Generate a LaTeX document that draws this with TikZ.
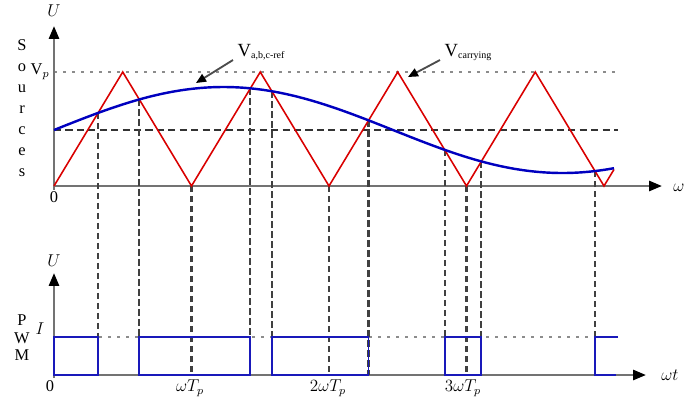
\documentclass[tikz,border=0pt]{standalone}
\usepackage{fontspec}
\setmainfont{Liberation Serif}
\usetikzlibrary{arrows.meta,intersections,positioning}

\begin{document}
\begin{tikzpicture}[x=0.7pt,y=-0.7pt,
    axis/.style={draw=black!55, line width=1.7pt, -{Triangle[black,length=9pt,width=7pt]}},
    levelline/.style={draw=black!45, line width=1.4pt, dash pattern=on 2pt off 4.3pt},
    midline/.style={draw=black!80, line width=1.4pt, dash pattern=on 5pt off 3pt},
    drop/.style={draw=black!75, line width=1.5pt, dash pattern=on 4.5pt off 2.5pt},
    carrier/.style={draw=red!85!black, line width=1.1pt},
    refwave/.style={draw=blue!75!black, line width=1.7pt},
    pwm/.style={draw=blue!70!black!90, line width=1.3pt},
    pointer/.style={draw=black!70, line width=1.3pt, -{Triangle[black,length=7pt,width=6pt]}},
    lbl/.style={font=\fontsize{11.5}{13}\selectfont, inner sep=1pt}]
\useasboundingbox (0,0) rectangle (689,399);

% axes
\coordinate (o1) at (54,186);
\coordinate (o2) at (54,375);
\coordinate (x1) at (662,186);
\coordinate (y1) at (54,26);
\coordinate (x2) at (646,375);
\coordinate (y2) at (54,273);

% reference levels
\draw[levelline] (54,72) -- (620,72);
\draw[midline] (54,130) -- (618,130);
\draw[levelline] (54,337) -- (620,337);

\draw[axis] (o1) -- (x1);
\draw[axis] (o1 |- 0,190) -- (y1);
\draw[axis] (o2) -- (x2);
\draw[axis] (o2 |- 0,378) -- (y2);

% carrier and reference
\path[name path=tri] (54,186) \foreach \k in {0,...,3} { -- ++(68.75,-114) -- ++(68.75,114)} -- ++(10,-16.6);
\path[name path=ref] plot[domain=54:614, samples=90, smooth] (\x,{130-43*sin(0.531*(\x-54))});
\path[name intersections={of=tri and ref, name=c, sort by=tri}];

% dashed projections
\foreach \i in {1,...,8}
    \draw[drop] (c-\i) -- (c-\i |- o2);
\foreach \x in {191.5,329,466.5}
    \draw[drop] (\x,186) -- (\x,375);

\draw[carrier] (54,186) \foreach \k in {0,...,3} { -- ++(68.75,-114) -- ++(68.75,114)} -- ++(10,-16.6);
\draw[refwave] plot[domain=54:614, samples=90, smooth] (\x,{130-43*sin(0.531*(\x-54))});

% pwm pulses
\draw[pwm] (o2) rectangle (c-1 |- 0,337);
\draw[pwm] (c-2 |- o2) rectangle (c-3 |- 0,337);
\draw[pwm] (c-4 |- o2) rectangle (c-5 |- 0,337);
\draw[pwm] (c-6 |- o2) rectangle (c-7 |- 0,337);
\draw[pwm] (618,337) -- (c-8 |- 0,337) -- (c-8 |- o2) -- (616,375);

% labels
\node[lbl] (u1) at (54,11) {$U$};
\node[lbl] (u2) at (54,261) {$U$};
\node[lbl] (w1) at (679,188) {$\omega$};
\node[lbl] (w2) at (670,375) {$\omega t$};
\node[lbl] (z1) at (54,197) {0};
\node[lbl] (z2) at (50,386) {0};
\node[lbl] (vp) at (40,72) {V$_p$};
\node[lbl] (iv) at (40,329) {$I$};
\node[lbl, align=center, font=\fontsize{11.5}{14.7}\selectfont] (src) at (22,108) {S\\o\\u\\r\\c\\e\\s};
\node[lbl, align=center, font=\fontsize{11.5}{12.3}\selectfont] (pw) at (22,338) {P\\W\\M};
\node[lbl] (t1) at (190,388) {$\omega T_p$};
\node[lbl] (t2) at (328,388) {$2\omega T_p$};
\node[lbl] (t3) at (463,388) {$3\omega T_p$};

\node[lbl, anchor=base west] (vref) at (236,56) {\fontsize{13}{13}\selectfont V\textsubscript{\fontsize{7}{7}\selectfont a,b,c-ref}};
\node[lbl, anchor=base west] (vcar) at (443,56) {\fontsize{13}{13}\selectfont V\textsubscript{\fontsize{7}{7}\selectfont carrying}};
\coordinate (pr) at (196,83);
\coordinate (pc) at (408,77);
\draw[pointer] (233,60) -- (pr);
\draw[pointer] (440,60) -- (pc);
\end{tikzpicture}
\end{document}
